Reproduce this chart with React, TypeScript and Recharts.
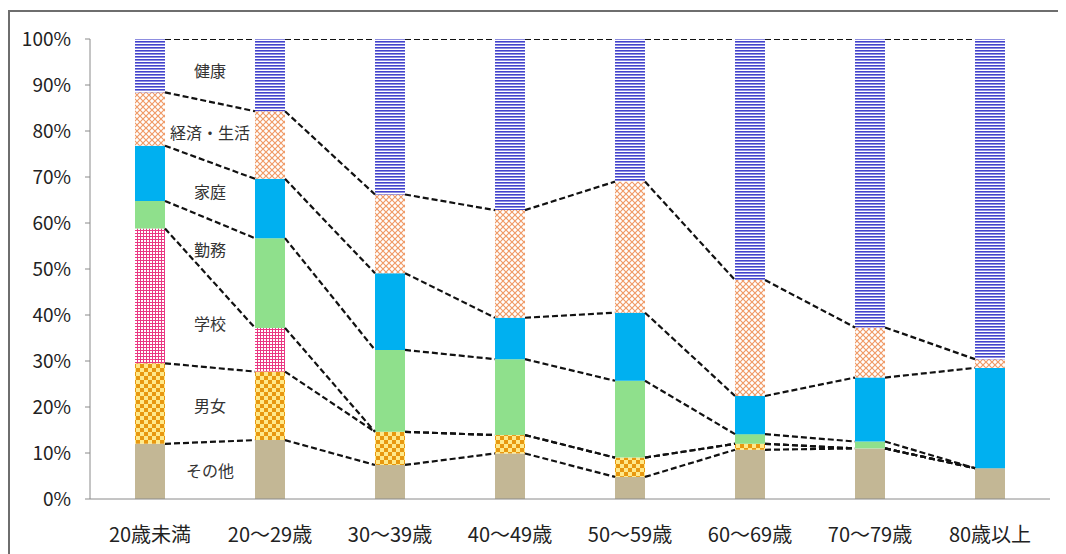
import React from 'react';
import { ComposedChart, Bar, Line, XAxis, YAxis } from 'recharts';

// ---- data ----
const ages = ['20歳未満', '20～29歳', '30～39歳', '40～49歳', '50～59歳', '60～69歳', '70～79歳', '80歳以上'];
const seriesKeys = ['other', 'gender', 'school', 'work', 'family', 'economy', 'health'];
const seriesNames = ['その他', '男女', '学校', '勤務', '家庭', '経済・生活', '健康'];
const other = [12.0, 12.8, 7.4, 9.9, 4.8, 10.7, 11.0, 6.7];
const gender = [17.5, 14.9, 7.2, 4.0, 4.2, 1.3, 0, 0];
const school = [29.3, 9.5, 0, 0, 0, 0, 0, 0];
const work = [6.0, 19.5, 17.8, 16.5, 16.7, 2.1, 1.5, 0];
const family = [12.0, 12.9, 16.7, 9.0, 14.8, 8.3, 13.9, 21.8];
const economy = [11.6, 14.7, 17.1, 23.4, 28.5, 25.2, 10.9, 1.9];
const health = [11.6, 15.7, 33.8, 37.2, 31.0, 52.4, 62.7, 69.6];
const yTicks = [0, 10, 20, 30, 40, 50, 60, 70, 80, 90, 100];

const seriesValues = [other, gender, school, work, family, economy, health];
const fills = [
  '#c3b795',
  'url(#patGender)',
  'url(#patSchool)',
  '#8fe08c',
  '#00b0f0',
  'url(#patEconomy)',
  'url(#patHealth)',
];

const rows = ages.map((age, i) => {
  const r: Record<string, any> = { age };
  seriesKeys.forEach((k, s) => (r[k] = seriesValues[s][i]));
  return r;
});

// cumulative boundaries
const cum = (k: number, i: number) => {
  let t = 0;
  for (let s = 0; s < k; s++) t += seriesValues[s][i];
  return Math.round(t * 100) / 100;
};

const GAP = 0.375; // bar category gap fraction (each side)
const HALF = 0.5 - GAP;

const connectorData = [1, 2, 3, 4, 5, 6, 7].map((k) => {
  const pts: { x: number; y: number | null }[] = [];
  for (let i = 0; i < ages.length - 1; i++) {
    pts.push({ x: i + 0.5 + HALF, y: cum(k, i) });
    pts.push({ x: i + 1.5 - HALF, y: cum(k, i + 1) });
    if (i < ages.length - 2) pts.push({ x: i + 1.5, y: null });
  }
  return pts;
});

const labelData = seriesNames.map((name, s) => {
  const m0 = (cum(s, 0) + cum(s + 1, 0)) / 2;
  const m1 = (cum(s, 1) + cum(s + 1, 1)) / 2;
  return { x: 1, y: (m0 + m1) / 2, name };
});

const Patterns = () => (
  <svg width={0} height={0} style={{ position: 'absolute' }}>
    <defs>
      <pattern id="patHealth" width="4" height="3" patternUnits="userSpaceOnUse">
        <rect width="4" height="3" fill="#ffffff" />
        <rect y="0" width="4" height="1.6" fill="#4343cc" />
      </pattern>
      <pattern id="patEconomy" width="6" height="6" patternUnits="userSpaceOnUse">
        <rect width="6" height="6" fill="#ffffff" />
        <path d="M0,0 L6,6 M6,0 L0,6" stroke="#f09a66" strokeWidth="1.2" />
      </pattern>
      <pattern id="patSchool" width="3" height="3" patternUnits="userSpaceOnUse">
        <rect width="3" height="3" fill="#ffffff" />
        <rect x="0" y="0" width="1" height="3" fill="#ea3883" />
        <rect x="0" y="0" width="3" height="1" fill="#ea3883" />
      </pattern>
      <pattern id="patGender" width="8" height="8" patternUnits="userSpaceOnUse">
        <rect width="8" height="8" fill="#ffe98a" />
        <rect x="0" y="0" width="4" height="4" fill="#e8980f" />
        <rect x="4" y="4" width="4" height="4" fill="#e8980f" />
      </pattern>
    </defs>
  </svg>
);

const LabelDot = (props: any) => {
  const { cx, cy, payload, index } = props;
  if (cx == null || cy == null) return <g key={index} />;
  return (
    <text
      key={index}
      x={cx}
      y={cy}
      textAnchor="middle"
      dominantBaseline="central"
      fontSize={16}
      fill="#333"
    >
      {payload.name}
    </text>
  );
};

export default function App() {
  return (
    <div
      style={{
        position: 'relative',
        width: 1058,
        height: 546,
        overflow: 'hidden',
        fontFamily: "'Noto Sans CJK JP', 'Noto Sans', sans-serif",
      }}
    >
      <style>{'html,body{overflow:hidden;}'}</style>
      <Patterns />
      <div
        style={{
          position: 'absolute',
          left: 0,
          top: 2,
          width: 1058,
          height: 2,
          background: '#6e6e6e',
          pointerEvents: 'none',
        }}
      />
      <div
        style={{
          position: 'absolute',
          left: 0,
          top: 2,
          width: 2,
          height: 544,
          background: '#6e6e6e',
          pointerEvents: 'none',
        }}
      />
      <ComposedChart
        width={1058}
        height={546}
        data={rows}
        margin={{ top: 31, right: 16, bottom: 25, left: 22 }}
        barCategoryGap={`${GAP * 100}%`}
      >
        <XAxis
          xAxisId="cat"
          dataKey="age"
          type="category"
          tickLine={false}
          axisLine={{ stroke: '#8a8a8a' }}
          tick={{ fontSize: 20, fill: '#222' }}
          tickSize={6}
          tickMargin={23}
          height={30}
          interval={0}
        />
        <XAxis xAxisId="num" dataKey="x" type="number" domain={[0, 8]} hide allowDataOverflow />
        <YAxis
          type="number"
          domain={[0, 100]}
          ticks={yTicks}
          interval={0}
          tickFormatter={(v: number) => `${v}%`}
          width={60}
          tickSize={5}
          tickMargin={14}
          axisLine={{ stroke: '#8a8a8a' }}
          tickLine={{ stroke: '#8a8a8a' }}
          tick={{ fontSize: 19, fill: '#222' }}
          allowDataOverflow
        />
        {seriesKeys.map((k, s) => (
          <Bar
            key={k}
            xAxisId="cat"
            dataKey={k}
            name={seriesNames[s]}
            stackId="a"
            fill={fills[s]}
            isAnimationActive={false}
          />
        ))}
        {connectorData.map((d, k) => (
          <Line
            key={'c' + k}
            xAxisId="num"
            data={d}
            dataKey="y"
            type="linear"
            stroke="#111"
            strokeWidth={2.2}
            strokeDasharray="6 3"
            dot={false}
            activeDot={false}
            isAnimationActive={false}
          />
        ))}
        <Line
          xAxisId="num"
          data={labelData}
          dataKey="y"
          stroke="none"
          dot={LabelDot}
          activeDot={false}
          isAnimationActive={false}
        />
      </ComposedChart>
    </div>
  );
}
